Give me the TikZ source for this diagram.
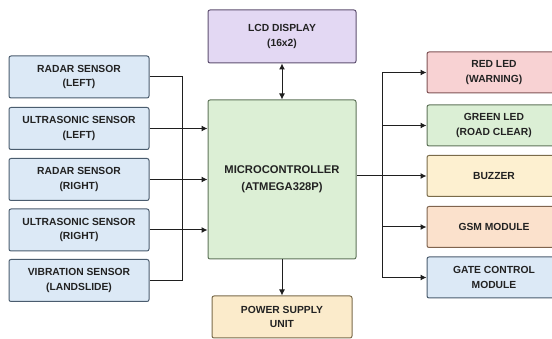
\documentclass[tikz,border=0pt]{standalone}
\usepackage{fontspec}
\setmainfont{Liberation Sans}
\usetikzlibrary{arrows.meta}
\definecolor{txtgray}{HTML}{222222}
\definecolor{sensfill}{HTML}{DCE9F6}
\definecolor{sensline}{HTML}{4A5C6E}
\definecolor{lcdfill}{HTML}{E3D8F3}
\definecolor{lcdline}{HTML}{5E5070}
\definecolor{mcufill}{HTML}{DCEFD5}
\definecolor{mculine}{HTML}{5F745A}
\definecolor{pwrfill}{HTML}{FBEBCB}
\definecolor{pwrline}{HTML}{7A6B4A}
\definecolor{redfill}{HTML}{F8D2D3}
\definecolor{redline}{HTML}{805456}
\definecolor{grnfill}{HTML}{DBEFD5}
\definecolor{buzfill}{HTML}{FDF0D0}
\definecolor{gsmfill}{HTML}{FBE1CC}
\definecolor{gsmline}{HTML}{80644E}
\begin{document}
\begin{tikzpicture}[x=1pt, y=-1pt, line width=1pt, >={Latex[length=6pt,width=6pt]},
  blk/.style 2 args={draw=#2, fill=#1, rounded corners=2pt, align=center,
    text=txtgray, font=\fontsize{10.3}{14.5}\selectfont\bfseries,
    minimum width=140pt, minimum height=42pt, inner sep=0pt},
  link/.style={draw=black!88}]
\useasboundingbox (0,0) rectangle (552,339);
\clip (0,0) rectangle (552,339);
% sensors on the left
\node[blk={sensfill}{sensline}] (radl) at (79,77) {RADAR SENSOR\\(LEFT)};
\node[blk={sensfill}{sensline}] (ultl) at (79,128.5) {ULTRASONIC SENSOR\\(LEFT)};
\node[blk={sensfill}{sensline}] (radr) at (79,179.5) {RADAR SENSOR\\(RIGHT)};
\node[blk={sensfill}{sensline}] (ultr) at (79,230) {ULTRASONIC SENSOR\\(RIGHT)};
\node[blk={sensfill}{sensline}] (vib) at (79,280.5) {VIBRATION SENSOR\\(LANDSLIDE)};
% centre column
\node[blk={lcdfill}{lcdline}, minimum width=148pt, minimum height=53pt] (lcd) at (282,36.5) {LCD DISPLAY\\(16x2)};
\node[blk={mcufill}{mculine}, minimum width=148pt, minimum height=159pt,
  font=\fontsize{11.2}{16.7}\selectfont\bfseries] (mcu) at (282,179.5) {MICROCONTROLLER\\(ATMEGA328P)};
\node[blk={pwrfill}{pwrline}] (pwr) at (282,317) {POWER SUPPLY\\UNIT};
% outputs on the right
\node[blk={redfill}{redline}, minimum width=134pt, minimum height=41pt] (red) at (494,72.5) {RED LED\\(WARNING)};
\node[blk={grnfill}{mculine}, minimum width=134pt, minimum height=41pt] (grn) at (494,125.5) {GREEN LED\\(ROAD CLEAR)};
\node[blk={buzfill}{pwrline}, minimum width=134pt, minimum height=41pt] (buz) at (494,176) {BUZZER};
\node[blk={gsmfill}{gsmline}, minimum width=134pt, minimum height=41pt] (gsm) at (494,227) {GSM MODULE};
\node[blk={sensfill}{sensline}, minimum width=134pt, minimum height=41pt] (gate) at (494,277.5) {GATE CONTROL\\MODULE};
\coordinate (lbus) at (182,0);
\coordinate (rbus) at (382,0);
% left bus
\draw[link] (radl.east) -- (radl.east -| lbus) -- (vib.east -| lbus) -- (vib.east);
\draw[link,->] (ultl.east) -- (ultl.east -| mcu.west);
\draw[link,->] (radr.east) -- (radr.east -| mcu.west);
\draw[link,->] (ultr.east) -- (ultr.east -| mcu.west);
% top and bottom
\draw[link,<->] (lcd) -- (mcu);
\draw[link,->] (mcu) -- (pwr);
% right bus
\draw[link] (buz.west -| mcu.east) -- (buz.west -| rbus);
\draw[link] (red.west -| rbus) -- (gate.west -| rbus);
\draw[link,->] (red.west -| rbus) -- (red.west);
\draw[link,->] (grn.west -| rbus) -- (grn.west);
\draw[link,->] (buz.west -| rbus) -- (buz.west);
\draw[link,->] (gsm.west -| rbus) -- (gsm.west);
\draw[link,->] (gate.west -| rbus) -- (gate.west);
\end{tikzpicture}
\end{document}
